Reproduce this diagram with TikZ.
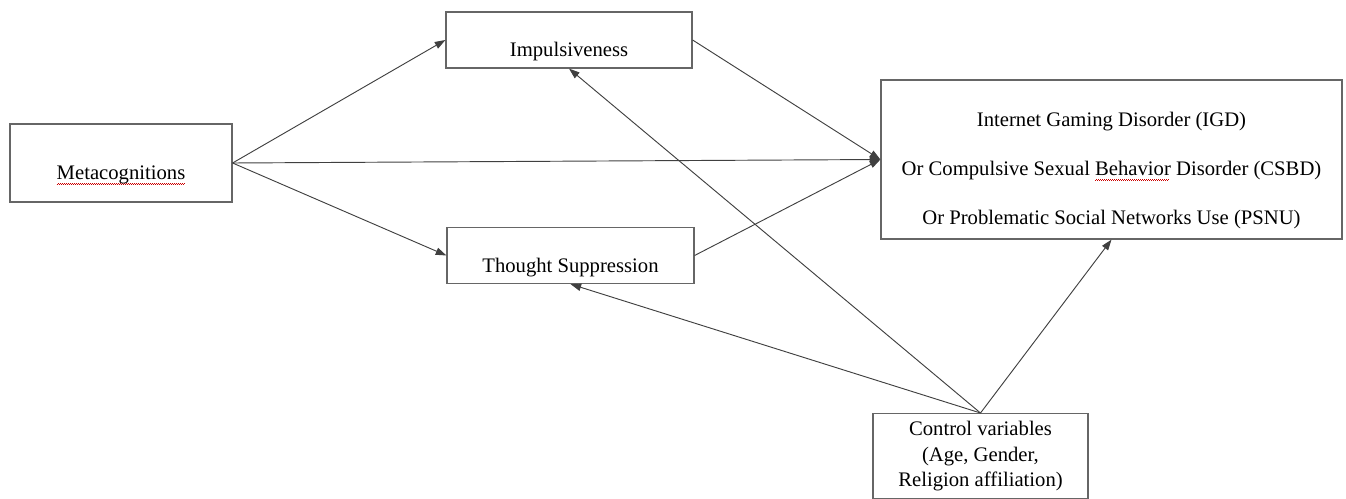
\documentclass[tikz,border=0pt]{standalone}
\usepackage{fontspec}
\setmainfont{Liberation Serif}
\usetikzlibrary{arrows.meta}
% red wavy spell-check underline
\newcommand\spellmark[1]{\setbox0\hbox{#1}\rlap{\hbox to\wd0{\color{red!80!black}\leaders\hbox{\rule[-3.4pt]{0.75pt}{0.4pt}\rule[-2.8pt]{0.75pt}{0.4pt}}\hfill}}\copy0\relax}
% text sits low in the boxes
\newcommand\lowtext[2][9pt]{\raisebox{-#1}[\height][\depth]{#2}}

\begin{document}
\begin{tikzpicture}[x=0.75pt,y=0.75pt,yscale=-1,xscale=1,
  box/.style={draw=black!60,line width=0.9pt,inner sep=0pt,align=center,font=\fontsize{15.5}{19}\selectfont},
  link/.style={draw=black!75,line width=0.7pt},
  arr/.style={link,-{Triangle[length=8pt,width=5.5pt]}}]
\useasboundingbox (0,0) rectangle (1346,499);

% Boxes
\node [box,minimum width=166.5pt,minimum height=58.5pt] (meta) at (121,163) {\lowtext{\spellmark{Metacognitions}}};
\node [box,minimum width=184.5pt,minimum height=42pt] (impul) at (569,40) {\lowtext{Impulsiveness}};
\node [box,minimum width=185.25pt,minimum height=42pt] (thought) at (570.5,255.5) {\lowtext{Thought Suppression}};
\node [box,minimum width=345.75pt,minimum height=119.25pt,font=\fontsize{15.5}{36.75}\selectfont] (outcome) at (1111.5,159.5)
  {\lowtext[5pt]{\begin{tabular}{@{}c@{}}Internet Gaming Disorder (IGD)\\Or Compulsive Sexual \spellmark{Behavior} Disorder (CSBD)\\Or Problematic Social Networks Use (PSNU)\end{tabular}}};
\node [box,minimum width=161.25pt,inner ysep=6pt,anchor=north] (ctrl) at (980.5,413)
  {Control variables\\(Age, Gender,\\Religion affiliation)};

% Paths from Metacognitions
\draw [arr] (meta.east) -- (impul.west);
\draw [arr] (meta.east) -- (thought.west);
\draw [arr] (meta.east) -- (outcome.west);

% Mediators to outcome
\draw [arr] (impul.east) -- (outcome.west);
\draw [arr] (thought.east) -- (outcome.west);

% Control variables
\draw [arr] (ctrl.north) -- (impul.south);
\draw [arr] (ctrl.north) -- (thought.south);
\draw [arr] (ctrl.north) -- (outcome.south);

\end{tikzpicture}
\end{document}
